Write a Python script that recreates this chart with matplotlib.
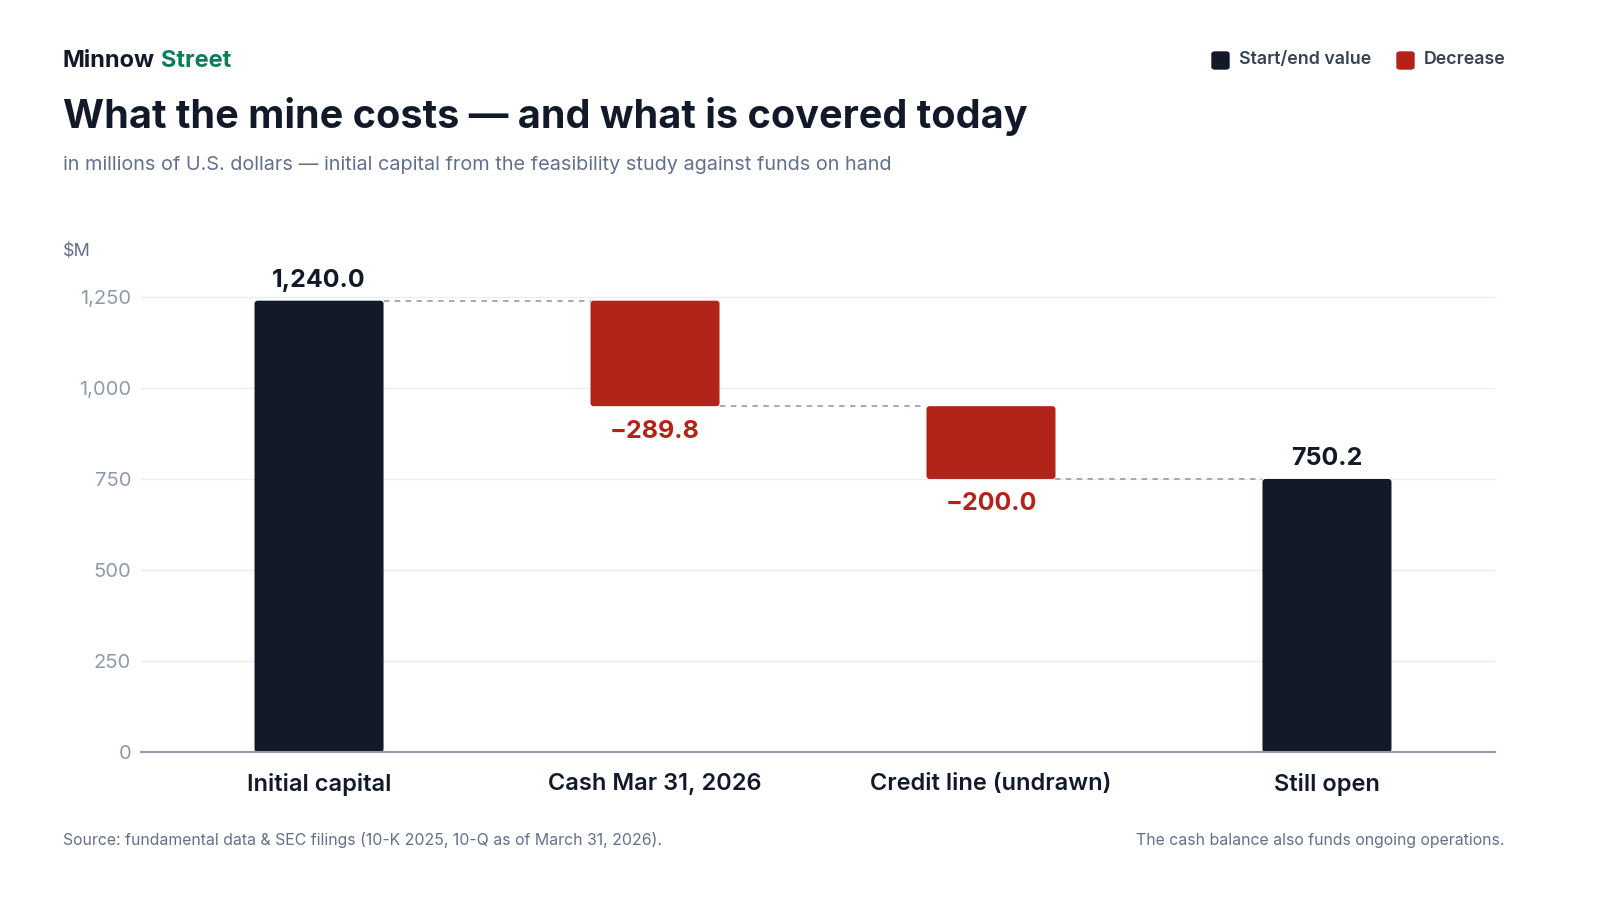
import numpy as np
import matplotlib
matplotlib.use("Agg")
import matplotlib.pyplot as plt
from matplotlib.patches import FancyBboxPatch

plt.rcParams['font.family'] = ['Inter', 'DejaVu Sans']

#%% data
categories = ['Initial capital', 'Cash Mar 31, 2026', 'Credit line (undrawn)', 'Still open']
kinds = ['total', 'delta', 'delta', 'total']
values = [1240.0, -289.8, -200.0, 750.2]
yticks = [0, 250, 500, 750, 1000, 1250]

dark = '#121A2A'
red = '#B22319'
grey_tick = '#8F9AAD'
grey_sub = '#64708A'

#%% figure
fig = plt.figure(figsize=(16, 9), dpi=100)
ax = fig.add_axes([0.0881, 0.1644, 0.84625, 0.546])
ax.set_xlim(-0.53, 3.5)
ax.set_ylim(0, 1350)

bw = 0.384
px_x = 336.0      # pixels per x unit
px_y = 0.364      # pixels per y unit
r_px = 3.0

running = 0.0
tops = []
for i, (k, v) in enumerate(zip(kinds, values)):
    if k == 'total':
        lo, hi = 0, v
        running = v
        col = dark
        ax.text(i, hi + 20 / px_y, f'{v:,.1f}', ha='center', va='center', fontsize=18,
                fontweight='bold', color=dark)
    else:
        lo, hi = running + v, running
        running = running + v
        col = red
        ax.text(i, lo - 25 / px_y, '\u2212' + f'{abs(v):,.1f}', ha='center', va='center',
                fontsize=18, fontweight='bold', color=red)
    box = FancyBboxPatch((i - bw / 2, lo), bw, hi - lo,
                         boxstyle=f'round,pad=0,rounding_size={r_px / px_x}',
                         mutation_aspect=(r_px / px_y) / (r_px / px_x),
                         facecolor=col, edgecolor='none', zorder=3)
    ax.add_patch(box)
    tops.append(running)

# connectors
for i in range(len(values) - 1):
    ax.plot([i + bw / 2, i + 1 - bw / 2], [tops[i], tops[i]], ls=(0, (3, 3)),
            color='#9AA4B5', lw=1.3, zorder=2)

ax.set_yticks(yticks)
ax.set_yticklabels([f'{t:,}' for t in yticks], fontsize=14.5, color=grey_tick)
ax.set_xticks(range(len(categories)))
ax.set_xticklabels(categories, fontsize=17, fontweight='semibold', color=dark)
ax.tick_params(axis='both', length=0)
ax.tick_params(axis='y', pad=7)
ax.tick_params(axis='x', pad=15)
ax.grid(axis='y', color='#EAEDF1', lw=1, zorder=0)
for s in ['top', 'right', 'left']:
    ax.spines[s].set_visible(False)
ax.spines['bottom'].set_color('#8F9AAD')
ax.spines['bottom'].set_linewidth(1.5)
ax.spines['bottom'].set_zorder(4)

#%% header
fig.text(63 / 1600, 1 - 61 / 900, 'Minnow', fontsize=17, fontweight='bold', color=dark, va='center')
fig.text(161 / 1600, 1 - 61 / 900, 'Street', fontsize=17, fontweight='bold', color='#0E7C5A', va='center')
fig.text(63 / 1600, 1 - 116 / 900, 'What the mine costs \u2014 and what is covered today',
         fontsize=28.5, fontweight='bold', color=dark, va='center')
fig.text(63 / 1600, 1 - 165 / 900,
         'in millions of U.S. dollars \u2014 initial capital from the feasibility study against funds on hand',
         fontsize=14.3, color=grey_sub, va='center')
fig.text(63 / 1600, 1 - 252 / 900, '$M', fontsize=13, color=grey_sub, va='center')

# legend
leg_items = [('Start/end value', dark, 1212), ('Decrease', red, 1397)]
for name, col, px in leg_items:
    fig.patches.append(FancyBboxPatch((px / 1600, 1 - 69 / 900), 17 / 1600, 17 / 900,
                                      boxstyle='round,pad=0,rounding_size=0.002',
                                      transform=fig.transFigure, color=col))
    fig.text((px + 27) / 1600, 1 - 60 / 900, name, fontsize=12.8, fontweight='semibold',
             color='#374151', va='center', ha='left')

# footer
fig.text(63 / 1600, 1 - 840 / 900,
         'Source: fundamental data & SEC filings (10-K 2025, 10-Q as of March 31, 2026).',
         fontsize=11.4, color=grey_sub, va='center')
fig.text(1505 / 1600, 1 - 840 / 900, 'The cash balance also funds ongoing operations.',
         fontsize=11.4, color=grey_sub, va='center', ha='right')

fig.savefig('out.png', dpi=100, facecolor='white')
